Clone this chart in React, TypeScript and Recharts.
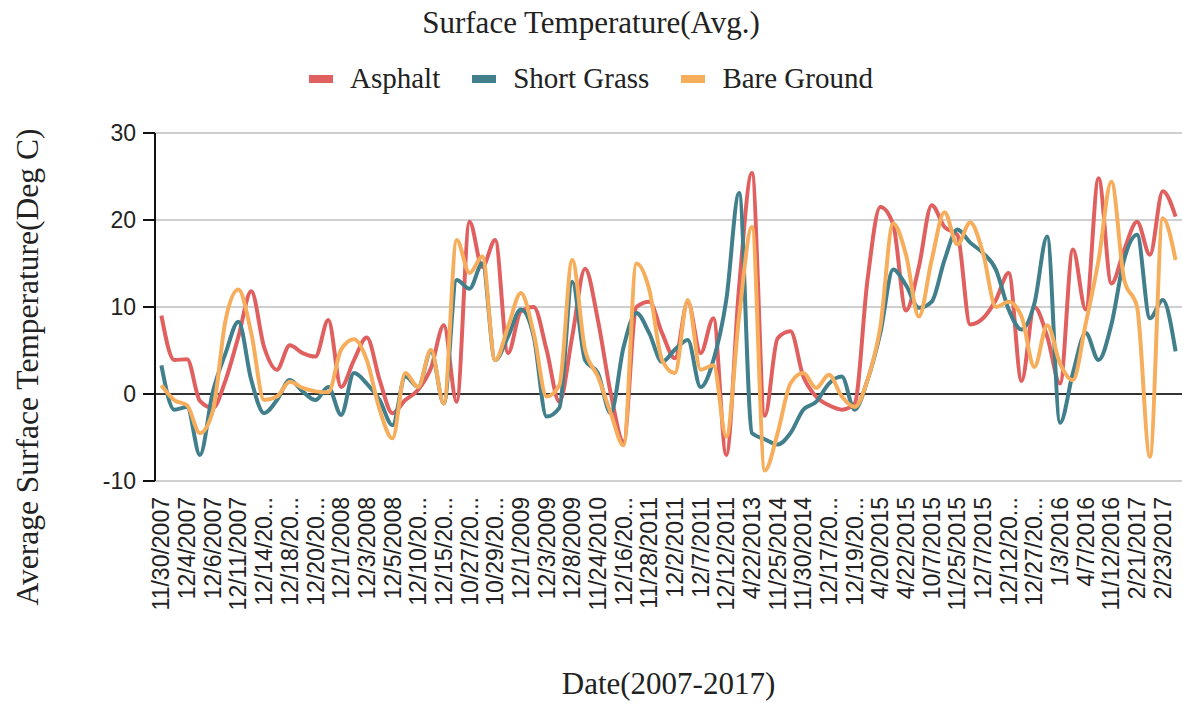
import React from "react";
import { CartesianGrid, Line, LineChart, ReferenceLine, XAxis, YAxis } from "recharts";

const dates = [
  "11/30/2007", "12/3/2007", "12/4/2007", "12/5/2007", "12/6/2007", "12/10/2007", "12/11/2007", "12/12/2007",
  "12/14/2007", "12/17/2007", "12/18/2007", "12/19/2007", "12/20/2007", "11/30/2008", "12/1/2008", "12/2/2008",
  "12/3/2008", "12/4/2008", "12/5/2008", "12/9/2008", "12/10/2008", "12/11/2008", "12/15/2008", "12/16/2008",
  "10/27/2009", "10/28/2009", "10/29/2009", "11/30/2009", "12/1/2009", "12/2/2009", "12/3/2009", "12/4/2009",
  "12/8/2009", "11/23/2010", "11/24/2010", "11/25/2010", "12/16/2010", "12/17/2010", "11/28/2011", "11/29/2011",
  "12/2/2011", "12/6/2011", "12/7/2011", "12/8/2011", "12/12/2011", "4/21/2013", "4/22/2013", "11/24/2014",
  "11/25/2014", "11/26/2014", "11/30/2014", "12/16/2014", "12/17/2014", "12/18/2014", "12/19/2014", "12/20/2014",
  "4/20/2015", "4/21/2015", "4/22/2015", "10/6/2015", "10/7/2015", "11/24/2015", "11/25/2015", "12/6/2015",
  "12/7/2015", "12/11/2015", "12/12/2015", "12/26/2015", "12/27/2015", "12/28/2015", "1/3/2016", "1/4/2016",
  "4/7/2016", "4/8/2016", "11/12/2016", "11/13/2016", "2/21/2017", "2/22/2017", "2/23/2017", "2/24/2017",
];

// labels as printed under every second date
const tickLabels = [
  "11/30/2007", "12/4/2007", "12/6/2007", "12/11/2007", "12/14/20...", "12/18/20...", "12/20/20...", "12/1/2008",
  "12/3/2008", "12/5/2008", "12/10/20...", "12/15/20...", "10/27/20...", "10/29/20...", "12/1/2009", "12/3/2009",
  "12/8/2009", "11/24/2010", "12/16/20...", "11/28/2011", "12/2/2011", "12/7/2011", "12/12/2011", "4/22/2013",
  "11/25/2014", "11/30/2014", "12/17/20...", "12/19/20...", "4/20/2015", "4/22/2015", "10/7/2015", "11/25/2015",
  "12/7/2015", "12/12/20...", "12/27/20...", "1/3/2016", "4/7/2016", "11/12/2016", "2/21/2017", "2/23/2017",
];

const asphalt = [
  9.0, 3.9, 4.0, -0.8, -1.6, 1.6, 6.6, 11.8, 5.4, 2.8,
  5.6, 4.7, 4.3, 8.5, 0.8, 3.9, 6.5, 1.6, -2.2, -0.7,
  0.5, 3.0, 7.9, -0.9, 19.8, 14.6, 17.7, 4.7, 9.5, 10.0,
  5.1, -0.9, 6.6, 14.4, 8.5, 0.1, -5.5, 10.0, 10.6, 7.0,
  4.1, 10.6, 4.7, 8.7, -7.0, 12.3, 25.4, -2.5, 6.4, 7.2,
  2.0, -0.3, -1.3, -1.8, -1.1, 13.1, 21.5, 19.5, 9.6, 14.6,
  21.7, 19.2, 18.3, 8.0, 8.7, 10.8, 13.9, 1.5, 10.0, 6.6,
  1.2, 16.6, 9.7, 24.8, 12.7, 16.6, 19.8, 16.0, 23.3, 20.4,
];

const shortGrass = [
  3.3, -1.8, -1.5, -7.0, 0.2, 4.7, 8.3, 1.6, -2.2, -0.7,
  1.6, 0.3, -0.7, 0.8, -2.4, 2.4, 1.2, -0.7, -3.6, 2.0,
  0.8, 4.9, -1.1, 13.1, 12.1, 15.0, 3.9, 6.6, 9.7, 6.6,
  -2.6, -1.6, 12.9, 3.9, 2.4, -2.2, 5.4, 9.3, 7.0, 3.7,
  5.1, 6.2, 0.8, 3.9, 10.8, 23.1, -4.5, -5.2, -5.8, -4.5,
  -1.8, -0.9, 1.2, 2.0, -1.8, 1.6, 7.0, 14.3, 12.5, 9.9,
  10.6, 15.4, 18.9, 17.4, 16.2, 14.3, 9.7, 7.4, 10.4, 18.1,
  -3.3, 2.4, 7.0, 3.9, 8.0, 15.5, 18.3, 8.7, 10.8, 4.9,
];

const bareGround = [
  1.0, -0.7, -1.3, -4.5, -2.0, 8.5, 12.0, 7.0, -0.7, -0.3,
  1.4, 0.7, 0.3, 0.2, 5.1, 6.3, 3.9, -1.8, -5.1, 2.4,
  0.8, 5.1, -1.1, 17.7, 13.9, 15.8, 3.9, 7.7, 11.6, 7.0,
  -0.3, 1.0, 15.4, 5.1, 2.0, -2.2, -5.9, 15.0, 12.0, 3.9,
  2.4, 10.8, 2.8, 3.3, -4.9, 8.9, 19.2, -8.8, -4.5, 1.2,
  2.4, 0.7, 2.2, -0.3, -1.5, 1.6, 7.7, 19.6, 16.0, 8.9,
  15.4, 20.9, 17.2, 19.7, 16.2, 10.0, 10.6, 8.9, 3.1, 7.9,
  3.5, 1.6, 8.1, 15.4, 24.4, 13.1, 10.0, -7.2, 20.2, 15.4,
];

const yTicks = [-10, 0, 10, 20, 30];

const series = [
  { key: "asphalt", name: "Asphalt", color: "#e0605f" },
  { key: "shortGrass", name: "Short Grass", color: "#407f8b" },
  { key: "bareGround", name: "Bare Ground", color: "#f6ae5c" },
];

const rows = dates.map((d, i) => ({
  date: d,
  asphalt: asphalt[i],
  shortGrass: shortGrass[i],
  bareGround: bareGround[i],
}));

const labelOf = new Map<string, string>();
tickLabels.forEach((t, k) => labelOf.set(dates[k * 2], t));

const serif = "'Liberation Serif', 'DejaVu Serif', serif";
const sans = "'Liberation Sans', Arial, sans-serif";

function DateTick({ x, y, payload }: any) {
  const text = labelOf.get(payload.value);
  if (!text) return null;
  return (
    <g transform={`translate(${x},${y + 16})`}>
      <text transform="rotate(-90)" textAnchor="end" dy="0.35em" fontFamily={sans} fontSize={23} fill="#222">
        {text}
      </text>
    </g>
  );
}

export default function App() {
  return (
    <div style={{ position: "absolute", left: 0, top: 0, width: 1182, height: 705, background: "#fff", overflow: "hidden" }}>
      <div style={{ position: "absolute", left: 0, top: 5, width: 1182, textAlign: "center", fontFamily: serif, fontSize: 31, color: "#222" }}>
        Surface Temperature(Avg.)
      </div>
      <div style={{ position: "absolute", left: 0, top: 62, width: 1182, display: "flex", justifyContent: "center", fontFamily: serif, fontSize: 29, color: "#222" }}>
        {series.map((s) => (
          <div key={s.key} style={{ display: "flex", alignItems: "center", margin: "0 16px" }}>
            <span style={{ display: "inline-block", width: 24, height: 8, background: s.color, marginRight: 17 }} />
            <span>{s.name}</span>
          </div>
        ))}
      </div>
      <div
        style={{
          position: "absolute", left: 28, top: 367, transform: "translate(-50%, -50%) rotate(-90deg)",
          whiteSpace: "nowrap", fontFamily: serif, fontSize: 31.5, color: "#222",
        }}
      >
        Average Surface Temperature(Deg C)
      </div>
      <div style={{ position: "absolute", left: 0, top: 666, width: 1337, textAlign: "center", fontFamily: serif, fontSize: 31, color: "#222" }}>
        Date(2007-2017)
      </div>
      <LineChart width={1182} height={705} data={rows} margin={{ top: 133, right: 0, bottom: 0, left: 0 }}>
        <CartesianGrid horizontal vertical={false} stroke="#cfcfcf" strokeWidth={2} />
        <XAxis
          dataKey="date"
          height={224}
          interval={0}
          tick={<DateTick />}
          tickLine={false}
          axisLine={false}
          tickSize={0}
          tickMargin={0}
          padding={{ left: 6.4, right: 6.4 }}
        />
        <YAxis
          width={155}
          domain={[-10, 30]}
          ticks={yTicks}
          interval={0}
          tickSize={12}
          tickMargin={7}
          axisLine={{ stroke: "#111", strokeWidth: 2 }}
          tickLine={{ stroke: "#111", strokeWidth: 2 }}
          tick={{ fontFamily: sans, fontSize: 23, fill: "#222" }}
        />
        <ReferenceLine y={0} stroke="#333" strokeWidth={2} />
        {series.map((s) => (
          <Line
            key={s.key}
            dataKey={s.key}
            name={s.name}
            type="monotone"
            stroke={s.color}
            strokeWidth={4}
            dot={false}
            activeDot={false}
            isAnimationActive={false}
          />
        ))}
      </LineChart>
    </div>
  );
}
